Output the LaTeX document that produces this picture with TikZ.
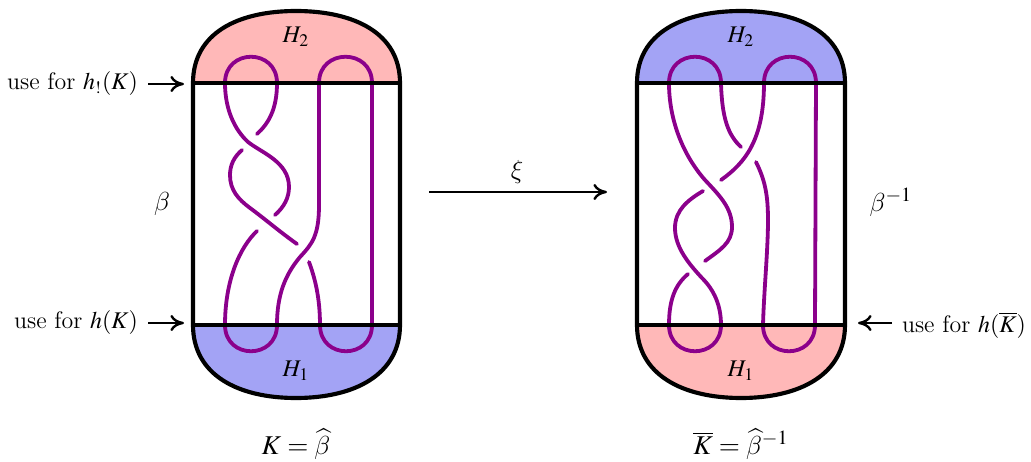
\documentclass[tikz,border=0pt]{standalone}
\usepackage{amsmath,amssymb}
\usepackage{mathptmx}
\DeclareSymbolFont{cmgreek}{OML}{cmm}{m}{it}
\DeclareMathSymbol{\beta}{\mathord}{cmgreek}{"0C}
\DeclareMathSymbol{\xi}{\mathord}{cmgreek}{"18}
\usepackage{tikz}
\usetikzlibrary{arrows.meta,positioning,calc}
\definecolor{HandleRed}{HTML}{FFB8B8}
\definecolor{HandleBlue}{HTML}{A3A3F5}
\definecolor{KnotPurple}{HTML}{8B008B}
\begin{document}
\begin{tikzpicture}[
x=0.46pt,y=-0.46pt,
lbl/.style={inner sep=0pt,outer sep=0pt,font=\fontsize{11}{13}\selectfont},
big/.style={inner sep=0pt,outer sep=0pt,font=\fontsize{12.5}{15}\selectfont},
wall/.style={line width=1.9pt,black},
knot/.style={line width=1.75pt,KnotPurple,line cap=round},
arr/.style={-{To[length=2.2mm,width=2.6mm]},line width=1.1pt}
]
\useasboundingbox (0,0) rectangle (1031,462);
% left: fills
\fill[HandleRed] (193,83) .. controls (193,33) and (238,11) .. (296,11) .. controls (354,11) and (400,33) .. (400,83) -- cycle;
\fill[HandleBlue] (193,325) .. controls (193,375) and (238,398) .. (296,398) .. controls (354,398) and (400,375) .. (400,325) -- cycle;
% right: fills
\fill[HandleBlue] (637,83) .. controls (637,33) and (683,11) .. (741,11) .. controls (799,11) and (845,33) .. (845,83) -- cycle;
\fill[HandleRed] (637,325) .. controls (637,375) and (683,398) .. (741,398) .. controls (799,398) and (845,375) .. (845,325) -- cycle;
% left: knot
\draw[knot] (257,134) .. controls (268,124) and (277,110) .. (277,83) .. controls (277,48) and (225,48) .. (225,83) .. controls (225,110) and (235,130) .. (248,142) .. controls (262,153) and (289,162) .. (289,187) .. controls (289,198) and (284,207) .. (275,215);
\draw[knot] (242,150) .. controls (234,157) and (230,165) .. (230,175) .. controls (230,190) and (238,199) .. (250,208) .. controls (265,219) and (280,232) .. (297,244);
\draw[knot] (257,231) .. controls (240,247) and (225,280) .. (225,325) .. controls (225,360) and (277,360) .. (277,325) .. controls (277,295) and (285,275) .. (300,257) .. controls (312,244) and (319,236) .. (319,205) -- (319,83) .. controls (319,48) and (372,48) .. (372,83) -- (372,325) .. controls (372,360) and (320,360) .. (320,325) .. controls (320,298) and (315,278) .. (309,262);
% right: knot
\draw[knot] (741,147) .. controls (728,135) and (722,118) .. (721,83) .. controls (721,48) and (669,48) .. (669,83) .. controls (669,120) and (683,155) .. (705,180) .. controls (720,196) and (732,208) .. (732,227) .. controls (732,243) and (720,250) .. (705,261);
\draw[knot] (721,180) .. controls (745,163) and (764,140) .. (764,83) .. controls (764,48) and (816,48) .. (816,83) -- (815,325) .. controls (815,360) and (763,360) .. (763,325) .. controls (764,290) and (768,250) .. (768,220) .. controls (768,195) and (765,180) .. (756,162);
\draw[knot] (703,191) .. controls (688,200) and (675,210) .. (675,228) .. controls (675,248) and (690,265) .. (702,278) .. controls (714,290) and (721,305) .. (721,325) .. controls (721,360) and (669,360) .. (669,325) .. controls (669,300) and (675,285) .. (688,274);
% walls
\draw[wall] (193,325) -- (193,83) .. controls (193,33) and (238,11) .. (296,11) .. controls (354,11) and (400,33) .. (400,83) -- (400,325) .. controls (400,375) and (354,398) .. (296,398) .. controls (238,398) and (193,375) .. (193,325) -- cycle;
\draw[wall] (193,83) -- (400,83);
\draw[wall] (193,325) -- (400,325);
\draw[wall] (637,325) -- (637,83) .. controls (637,33) and (683,11) .. (741,11) .. controls (799,11) and (845,33) .. (845,83) -- (845,325) .. controls (845,375) and (799,398) .. (741,398) .. controls (683,398) and (637,375) .. (637,325) -- cycle;
\draw[wall] (637,83) -- (845,83);
\draw[wall] (637,325) -- (845,325);
% labels
\node[lbl] (H2a) at (296,37) {$H_2$};
\node[lbl] (H1a) at (296,371) {$H_1$};
\node[lbl] (H2b) at (741,37) {$H_2$};
\node[lbl] (H1b) at (741,371) {$H_1$};
\node[big] (beta) at (162,204) {$\beta$};
\node[big] (betainv) at (891,202) {$\beta^{-1}$};
\node[big] (xi) at (517,172) {$\xi$};
\node[big] (knotK) at (296,444) {$K=\widehat{\beta}$};
\node[big] (knotKbar) at (741,444) {$\overline{K}=\widehat{\beta}^{-1}$};
\node[lbl,anchor=east] (useupper) at (138,84) {use for $h_!(K)$};
\node[lbl,anchor=east] (uselower) at (138,323) {use for $h(K)$};
\node[lbl,anchor=west] (useright) at (902,325) {use for $h(\overline{K})$};
% arrows
\coordinate (upperend) at (184,84);
\coordinate (lowerend) at (184,323);
\coordinate (rightend) at (858,323);
\coordinate (xistart) at (429,192);
\coordinate (xiend) at (607,192);
\draw[arr] (148,84) -- (upperend);
\draw[arr] (148,323) -- (lowerend);
\draw[arr] (892,323) -- (rightend);
\draw[arr] (xistart) -- (xiend);
\end{tikzpicture}
\end{document}
